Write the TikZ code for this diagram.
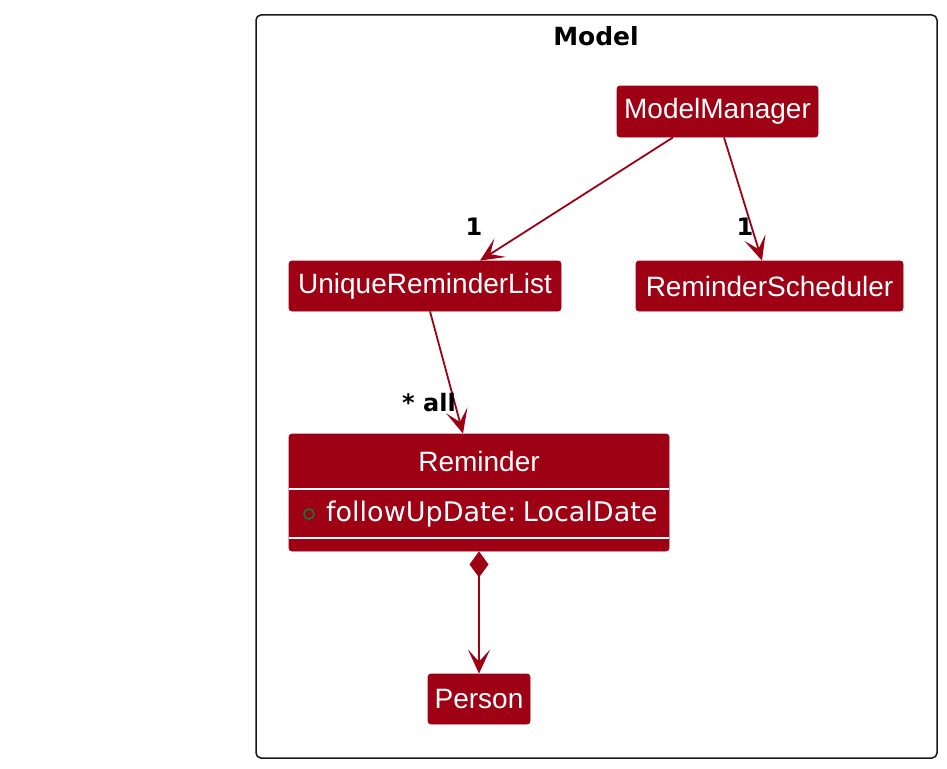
\documentclass[tikz,border=0pt]{standalone}
\usepackage{fontspec}
\newfontfamily\clsfont{Liberation Sans}
\newfontfamily\attrfont{DejaVu Sans}
\usetikzlibrary{arrows.meta}
\definecolor{umlred}{RGB}{158,0,20}
\definecolor{attrgreen}{RGB}{20,120,55}
\definecolor{framecol}{RGB}{24,24,24}
\tikzset{
  cls/.style={draw=umlred, fill=umlred, text=white, rounded corners=3pt, line width=0.8pt,
    inner sep=0pt, font=\clsfont\fontsize{28}{30}\selectfont},
  headtip/.tip={Stealth[length=24pt,width=22pt,inset=12pt]},
  assoc/.style={draw=umlred, line width=1.8pt, -headtip},
  comp/.style={draw=umlred, line width=1.8pt,
    {Diamond[length=26pt,width=19pt]}-headtip},
  mult/.style={inner sep=0pt, font=\attrfont\bfseries\fontsize{24}{26}\selectfont},
}
\begin{document}
\begin{tikzpicture}[x=1pt,y=-1pt]
\useasboundingbox (0,0) rectangle (947,768);
% package frame
\draw[framecol, line width=1.5pt, rounded corners=5pt] (256,15) rectangle (937,758);
\node[font=\attrfont\bfseries\fontsize{25}{27}\selectfont, inner sep=0pt] (title) at (596,36) {Model};
% classes
\node[cls, minimum width=201pt, minimum height=51pt] (mm) at (717.5,111.5) {ModelManager};
\node[cls, minimum width=272pt, minimum height=50pt] (url) at (425,286) {UniqueReminderList};
\node[cls, minimum width=267pt, minimum height=50pt] (rs) at (769.5,286) {ReminderScheduler};
\node[cls, minimum width=380pt, minimum height=117pt] (rem) at (479,492.5) {};
\node[cls, minimum width=102pt, minimum height=50pt] (person) at (479,699) {Person};
% Reminder compartments
\node[text=white, inner sep=0pt, font=\clsfont\fontsize{28}{30}\selectfont] (remname) at (479,461) {Reminder};
\draw[white, line width=1.2pt] (rem.west |- 0,489) -- (rem.east |- 0,489);
\draw[white, line width=1.2pt] (rem.west |- 0,538) -- (rem.east |- 0,538);
\node[circle, draw=attrgreen, line width=1.6pt, minimum size=10pt, inner sep=0pt] (vis) at (309,514) {};
\node[text=white, anchor=west, inner sep=0pt, font=\attrfont\fontsize{27}{29}\selectfont] (attr) at (326,514) {followUpDate:\kern-2pt\ LocalDate};
% connectors
\draw[assoc] ([xshift=-44.5pt]mm.south) -- ([xshift=55pt]url.north);
\draw[assoc] ([xshift=6.5pt]mm.south) -- ([xshift=-7.5pt]rs.north);
\draw[assoc] ([xshift=5pt]url.south) -- ([xshift=-16pt]rem.north);
\draw[comp] (rem.south) -- (person.north);
% multiplicities
\node[mult] (m1) at (474,227) {1};
\node[mult] (m2) at (745,227) {1};
\node[mult] (m3) at (429,403) {* all};
\end{tikzpicture}
\end{document}
